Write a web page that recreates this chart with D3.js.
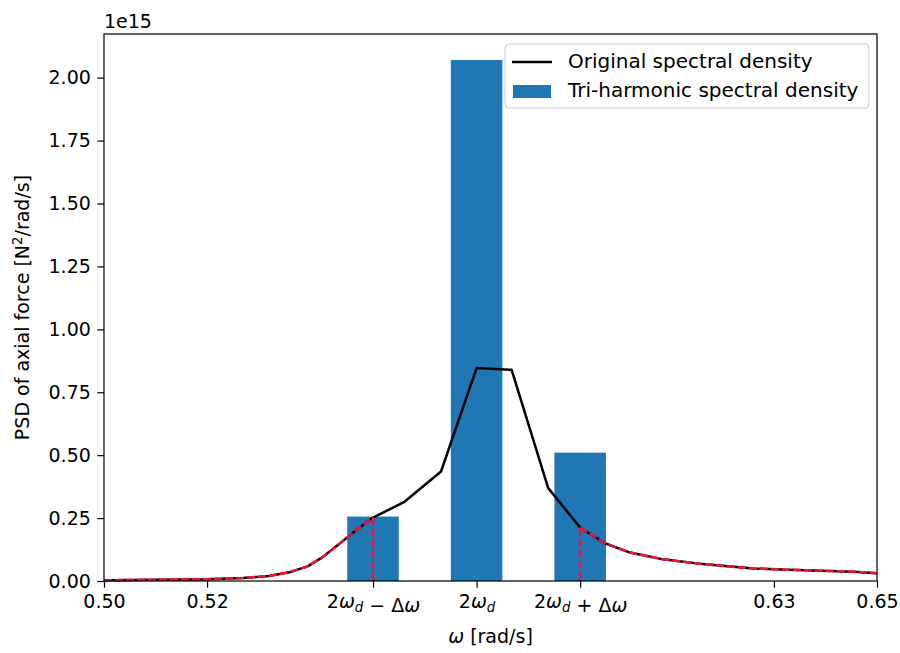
<!DOCTYPE html>
<html>
<head>
<meta charset="utf-8">
<script src="https://cdn.jsdelivr.net/npm/d3@7"></script>
<style>
  html, body { margin: 0; padding: 0; background: #ffffff; }
  svg { display: block; }
  text { font-family: "DejaVu Sans", sans-serif; fill: #000; }
</style>
</head>
<body>
<svg id="chart" width="900" height="653"></svg>
<script>
// Original PSD of the axial force (units of 1e15 N^2/(rad/s)) against omega [rad/s]
const curveOmega = [0.500, 0.510, 0.520, 0.527, 0.532, 0.536, 0.5395, 0.5425, 0.5455, 0.549,
  0.5522, 0.5582, 0.5654, 0.5723, 0.5791, 0.5862, 0.5924, 0.5972, 0.6021, 0.6085,
  0.6150, 0.6215, 0.6260, 0.6325, 0.6390, 0.6454, 0.6500];
const curvePsd = [0.003, 0.005, 0.007, 0.012, 0.020, 0.035, 0.058, 0.096, 0.145, 0.203,
  0.252, 0.313, 0.435, 0.846, 0.839, 0.369, 0.212, 0.150, 0.113, 0.086,
  0.070, 0.058, 0.050, 0.045, 0.041, 0.037, 0.031];

// Tri-harmonic approximation: three lines at 2wd - dw, 2wd, 2wd + dw
const harmonicOmega = [0.5522, 0.5723, 0.5924];
const harmonicPsd = [0.256, 2.07, 0.51];
const barWidth = 0.01;

// Axis ticks
const xTickValues = [0.50, 0.52, 0.5522, 0.5723, 0.5924, 0.63, 0.65];
const xTickLabels = ["0.50", "0.52", "2ω_d − Δω", "2ω_d", "2ω_d + Δω", "0.63", "0.65"];
const yTickValues = [0, 0.25, 0.5, 0.75, 1.0, 1.25, 1.5, 1.75, 2.0];

const legendLabels = ["Original spectral density", "Tri-harmonic spectral density"];

const svg = d3.select("#chart");
const margin = { left: 104, top: 34, right: 23, bottom: 72 };
const W = 900 - margin.left - margin.right;
const H = 653 - margin.top - margin.bottom;
const fontSize = 19;
const barColor = "#1f77b4";
const redColor = "#f5103c";

const x = d3.scaleLinear().domain([0.50, 0.65]).range([0, W]);
const y = d3.scaleLinear().domain([0, d3.max(harmonicPsd) * 1.05]).range([H, 0]);

const g = svg.append("g").attr("transform", `translate(${margin.left},${margin.top})`);

// Bars
g.selectAll("rect.bar")
  .data(harmonicOmega.map((w, i) => ({ w, v: harmonicPsd[i] })))
  .join("rect")
  .attr("class", "bar")
  .attr("x", d => x(d.w - barWidth / 2))
  .attr("width", d => x(d.w + barWidth / 2) - x(d.w - barWidth / 2))
  .attr("y", d => y(d.v))
  .attr("height", d => y(0) - y(d.v))
  .attr("fill", barColor);

// Original spectral density
const pts = curveOmega.map((w, i) => ({ w, v: curvePsd[i] }));
const line = d3.line().x(d => x(d.w)).y(d => y(d.v));
g.append("path")
  .datum(pts)
  .attr("d", line)
  .attr("fill", "none")
  .attr("stroke", "#000")
  .attr("stroke-width", 2.5)
  .attr("stroke-linejoin", "round");

// Red dashed overlay on the two tails outside the harmonic band
const lo = harmonicOmega[0], hi = harmonicOmega[2];
const tails = [pts.filter(d => d.w <= lo + 1e-9), pts.filter(d => d.w >= hi - 1e-9)];
tails.forEach(t => {
  g.append("path")
    .datum(t)
    .attr("d", line)
    .attr("fill", "none")
    .attr("stroke", redColor)
    .attr("stroke-width", 2.5)
    .attr("stroke-dasharray", "8,3");
});

// Vertical dashed markers at the side harmonics
[lo, hi].forEach(w => {
  const v = curvePsd[curveOmega.indexOf(w)];
  g.append("line")
    .attr("x1", x(w)).attr("x2", x(w))
    .attr("y1", y(v)).attr("y2", y(0))
    .attr("stroke", redColor)
    .attr("stroke-width", 2.5)
    .attr("stroke-dasharray", "8,3");
});

// Frame
g.append("rect")
  .attr("x", 0).attr("y", 0).attr("width", W).attr("height", H)
  .attr("fill", "none").attr("stroke", "#000").attr("stroke-width", 1.2);

// Renders "2ω_d − Δω" style labels with italic omega / d and a subscript
function mathLabel(sel, s) {
  sel.text(null);
  let sub = false;
  for (let i = 0; i < s.length; i++) {
    const ch = s[i];
    if (ch === "_") { sub = true; continue; }
    const ts = sel.append("tspan").text(ch);
    if (ch === "ω" || sub) ts.attr("font-style", "italic");
    if (sub) {
      ts.attr("font-size", fontSize * 0.7).attr("dy", 4);
      sub = false;
      // restore baseline for the next glyph
      sel.append("tspan").text("").attr("dy", -4);
    }
  }
}

// X axis
const xAxis = d3.axisBottom(x).tickValues(xTickValues).tickSize(6.7).tickPadding(7).tickFormat((d, i) => xTickLabels[i]);
const gx = g.append("g").attr("transform", `translate(0,${H})`).call(xAxis);
gx.select(".domain").remove();
gx.selectAll(".tick line").attr("stroke", "#000").attr("stroke-width", 1.2);
gx.selectAll(".tick text")
  .attr("font-size", fontSize).attr("font-family", "DejaVu Sans").attr("fill", "#000")
  .each(function (d, i) { if (xTickLabels[i].includes("ω")) mathLabel(d3.select(this), xTickLabels[i]); });

// Y axis
const yAxis = d3.axisLeft(y).tickValues(yTickValues).tickSize(6.7).tickPadding(6.5).tickFormat(d3.format(".2f"));
const gy = g.append("g").call(yAxis);
gy.select(".domain").remove();
gy.selectAll(".tick line").attr("stroke", "#000").attr("stroke-width", 1.2);
gy.selectAll(".tick text").attr("font-size", fontSize).attr("font-family", "DejaVu Sans").attr("fill", "#000");

// Scale offset
svg.append("text").attr("x", margin.left).attr("y", 28).attr("font-size", fontSize).text("1e15");

// Axis labels
const xl = svg.append("text")
  .attr("x", margin.left + W / 2).attr("y", 643)
  .attr("text-anchor", "middle").attr("font-size", fontSize);
xl.append("tspan").attr("font-style", "italic").text("ω");
xl.append("tspan").text(" [rad/s]");

const yl = svg.append("text")
  .attr("transform", `translate(29,${margin.top + H / 2}) rotate(-90)`)
  .attr("text-anchor", "middle").attr("font-size", fontSize);
yl.append("tspan").text("PSD of axial force [N");
yl.append("tspan").attr("font-size", fontSize * 0.7).attr("dy", -7).text("2");
yl.append("tspan").attr("dy", 7).text("/rad/s]");

// Legend
const lg = svg.append("g").attr("transform", "translate(505,44)");
lg.append("rect")
  .attr("width", 364).attr("height", 64).attr("rx", 4)
  .attr("fill", "#fff").attr("fill-opacity", 0.8)
  .attr("stroke", "#cccccc").attr("stroke-width", 1);
lg.append("line").attr("x1", 7).attr("x2", 47).attr("y1", 18).attr("y2", 18)
  .attr("stroke", "#000").attr("stroke-width", 2.5);
lg.append("rect").attr("x", 8).attr("y", 41).attr("width", 38).attr("height", 13).attr("fill", barColor);
lg.selectAll("text.lbl").data(legendLabels).join("text")
  .attr("class", "lbl")
  .attr("x", 63).attr("y", (d, i) => 24 + i * 28.5)
  .attr("font-size", 20).text(d => d);
</script>
</body>
</html>
